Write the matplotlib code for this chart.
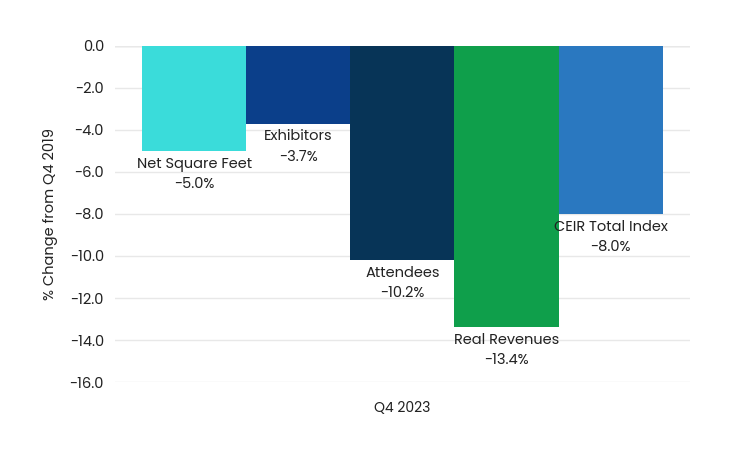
import matplotlib.pyplot as plt
import numpy as np

plt.rcParams['font.family'] = ['Poppins', 'Lato', 'DejaVu Sans']

metrics = ["Net Square Feet", "Exhibitors", "Attendees", "Real Revenues", "CEIR Total Index"]
values = [-5.0, -3.7, -10.2, -13.4, -8.0]
colors = ["#3ADCDA", "#0B3F8A", "#073457", "#0F9F4B", "#2A78C0"]
yticks = np.arange(0, -17, -2)

fig = plt.figure(figsize=(7.44, 4.5), dpi=100)
ax = fig.add_axes([0.1546, 0.151, 0.7724, 0.747])

x = np.arange(len(metrics))
ax.bar(x, values, width=1.0, color=colors, zorder=3)

for xi, name, v in zip(x, metrics, values):
    ax.annotate(f"{name}\n{v:.1f}%", (xi, v), xytext=(0, -4), textcoords="offset points",
                ha="center", va="top", fontsize=10.5, color="#222222", linespacing=1.5)

ax.set_ylim(-16, 0)
ax.set_xlim(-0.76, 4.76)
ax.set_yticks(yticks)
ax.set_yticklabels([f"{t:.1f}".replace("\u2212", "-") for t in yticks], fontsize=10.5, color="#222222")
ax.set_xticks([2])
ax.set_xticklabels(["Q4 2023"], fontsize=10, color="#222222")
ax.tick_params(axis="both", length=0, pad=8)
ax.tick_params(axis="x", pad=14)
ax.set_ylabel("% Change from Q4 2019", fontsize=10.5, color="#222222", labelpad=8)
ax.grid(axis="y", color="#e8e8e8", linewidth=1, zorder=0)
ax.axhline(0, color="#d0d0d0", linewidth=1, zorder=1)
for s in ax.spines.values():
    s.set_visible(False)

fig.savefig("out.png", dpi=100)
